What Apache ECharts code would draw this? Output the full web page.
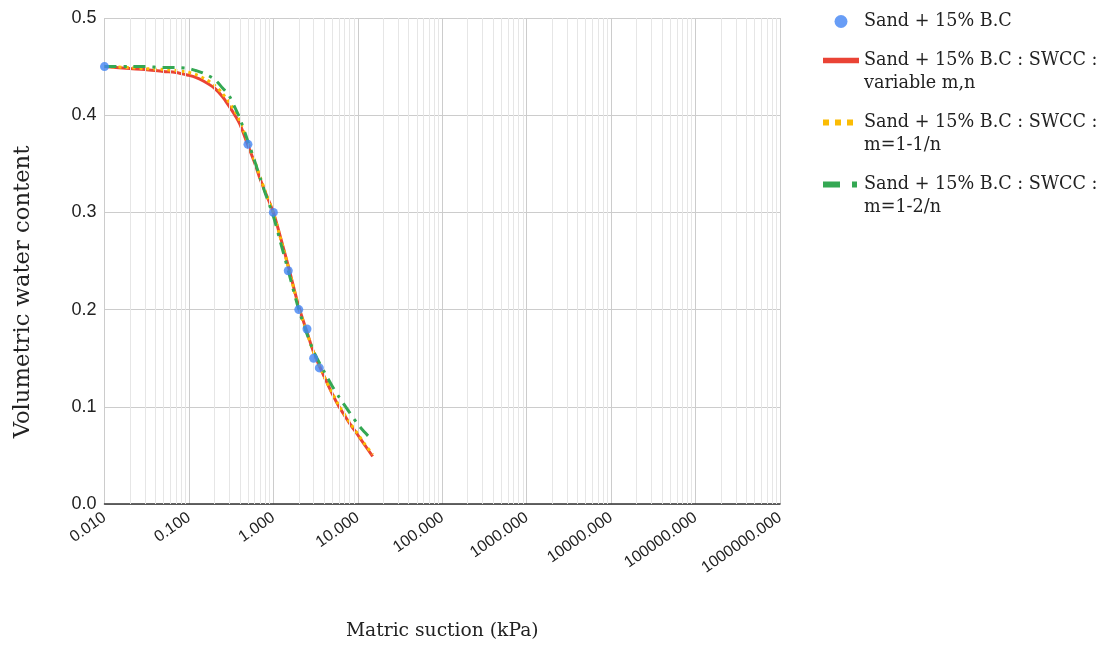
<!DOCTYPE html>
<html>
<head>
<meta charset="utf-8">
<script src="https://cdn.jsdelivr.net/npm/echarts@6/dist/echarts.min.js"></script>
<style>
  html, body { margin: 0; padding: 0; background: #fff; }
  #chart { width: 1111px; height: 650px; }
</style>
</head>
<body>
<div id="chart"></div>
<script>
// measured points
const measSuction = [0.01, 0.5, 1.0, 1.5, 2.0, 2.5, 3.0, 3.5]
const measTheta = [0.45, 0.37, 0.30, 0.24, 0.20, 0.18, 0.15, 0.14]

// fitted curves
const fitSuction = [0.01, 0.02, 0.03, 0.05, 0.07, 0.1, 0.12, 0.15, 0.2, 0.25, 0.3, 0.35, 0.4, 0.5, 0.6, 0.7, 0.8, 1.0, 1.2, 1.5, 2.0, 2.5, 3.0, 4.0, 5.0, 6.0, 8.0, 10, 12, 15]
const thetaVariable = [0.450, 0.448, 0.447, 0.445, 0.444, 0.441, 0.439, 0.435, 0.428, 0.419, 0.409, 0.400, 0.391, 0.369, 0.351, 0.334, 0.321, 0.300, 0.276, 0.245, 0.203, 0.177, 0.156, 0.131, 0.113, 0.100, 0.083, 0.071, 0.061, 0.049]
const thetaM1 = [0.450, 0.449, 0.448, 0.447, 0.446, 0.444, 0.442, 0.438, 0.431, 0.422, 0.413, 0.404, 0.394, 0.372, 0.353, 0.336, 0.322, 0.299, 0.275, 0.244, 0.202, 0.176, 0.156, 0.131, 0.114, 0.101, 0.084, 0.072, 0.062, 0.051]
const thetaM2 = [0.450, 0.450, 0.450, 0.449, 0.449, 0.448, 0.446, 0.443, 0.437, 0.428, 0.420, 0.408, 0.397, 0.373, 0.353, 0.335, 0.320, 0.296, 0.271, 0.240, 0.200, 0.175, 0.157, 0.136, 0.121, 0.110, 0.094, 0.082, 0.074, 0.065]

const names = [
  'Sand + 15% B.C',
  'Sand + 15% B.C : SWCC : variable m,n',
  'Sand + 15% B.C : SWCC : m=1-1/n',
  'Sand + 15% B.C : SWCC : m=1-2/n',
]

const pair = (xs, ys) => xs.map((x, i) => [x, ys[i]])

// minor grid lines at 2..9 of each decade
const minorLines = []
for (let d = -2; d < 6; d++) {
  for (let k = 2; k <= 9; k++) {
    minorLines.push({ xAxis: k * Math.pow(10, d) })
  }
}

const serif = '"DejaVu Serif", "Liberation Serif", serif'
const sans = '"Liberation Sans", Arial, sans-serif'

// two-line legend entries: blank line on top so the icon sits on the first line
const legendText = (name) => {
  const i = name.indexOf(' : SWCC : ')
  if (i < 0) return name
  return '\n' + name.slice(0, i) + ' : SWCC :\n' + name.slice(i + 10)
}

const chart = echarts.init(document.getElementById('chart'))

const option = {
  animation: false,
  grid: { left: 104.5, right: 331, top: 18, bottom: 146, outerBoundsMode: 'none' },
  legend: {
    orient: 'vertical',
    left: 815,
    top: 5,
    itemWidth: 36,
    itemHeight: 13,
    itemGap: -7,
    textStyle: { fontFamily: serif, fontSize: 17.6, color: '#222', lineHeight: 23 },
    formatter: legendText,
    data: [
      { name: names[0] },
      { name: names[1], itemStyle: { opacity: 0 }, lineStyle: { width: 5.5 } },
      { name: names[2], itemStyle: { opacity: 0 }, lineStyle: { width: 6, type: [6, 6] } },
      { name: names[3], itemStyle: { opacity: 0 }, lineStyle: { width: 6, type: [17, 12, 5, 20] } },
    ],
  },
  xAxis: {
    type: 'log',
    logBase: 10,
    min: 0.01,
    max: 1000000,
    splitNumber: 8,
    name: 'Matric suction (kPa)',
    nameLocation: 'middle',
    nameGap: 118,
    nameTextStyle: { fontFamily: serif, fontSize: 18.7, color: '#222' },
    axisLine: { show: true, lineStyle: { color: '#333', width: 1.5 } },
    axisTick: { show: false },
    axisLabel: {
      rotate: 35,
      margin: 12,
      fontFamily: sans,
      fontSize: 16,
      color: '#222',
      formatter: (v) => v.toFixed(3),
    },
    splitLine: { show: true, lineStyle: { color: '#cccccc', width: 1 } },
  },
  yAxis: {
    type: 'value',
    min: 0,
    max: 0.5,
    interval: 0.1,
    name: 'Volumetric water content',
    nameLocation: 'middle',
    nameGap: 70,
    nameTextStyle: { fontFamily: serif, fontSize: 22.7, color: '#222', padding: [0, 62, 0, 0] },
    axisLine: { show: false },
    axisTick: { show: false },
    axisLabel: {
      margin: 8,
      fontFamily: sans,
      fontSize: 18,
      color: '#222',
      formatter: (v) => v.toFixed(1),
    },
    splitLine: { show: true, lineStyle: { color: '#cccccc', width: 1 } },
  },
  series: [
    {
      name: 'minor',
      type: 'line',
      data: [],
      silent: true,
      z: 0,
      markLine: {
        silent: true,
        symbol: 'none',
        label: { show: false },
        lineStyle: { color: '#e6e6e6', width: 1, type: 'solid' },
        data: minorLines,
      },
    },
    {
      name: names[0],
      type: 'scatter',
      data: pair(measSuction, measTheta),
      symbol: 'circle',
      symbolSize: 9,
      itemStyle: { color: '#4285f4' },
      z: 10,
    },
    {
      name: names[1],
      type: 'line',
      data: pair(fitSuction, thetaVariable),
      symbol: 'none',
      smooth: 0.3,
      lineStyle: { color: '#ea4335', width: 3 },
      itemStyle: { color: '#ea4335' },
      z: 3,
    },
    {
      name: names[2],
      type: 'line',
      data: pair(fitSuction, thetaM1),
      symbol: 'none',
      smooth: 0.3,
      lineStyle: { color: '#fbbc04', width: 3, type: [3, 4] },
      itemStyle: { color: '#fbbc04' },
      z: 4,
    },
    {
      name: names[3],
      type: 'line',
      data: pair(fitSuction, thetaM2),
      symbol: 'none',
      smooth: 0.3,
      lineStyle: { color: '#34a853', width: 3, type: [12, 7, 3, 7] },
      itemStyle: { color: '#34a853' },
      z: 5,
    },
  ],
}

chart.setOption(option)
</script>
</body>
</html>
